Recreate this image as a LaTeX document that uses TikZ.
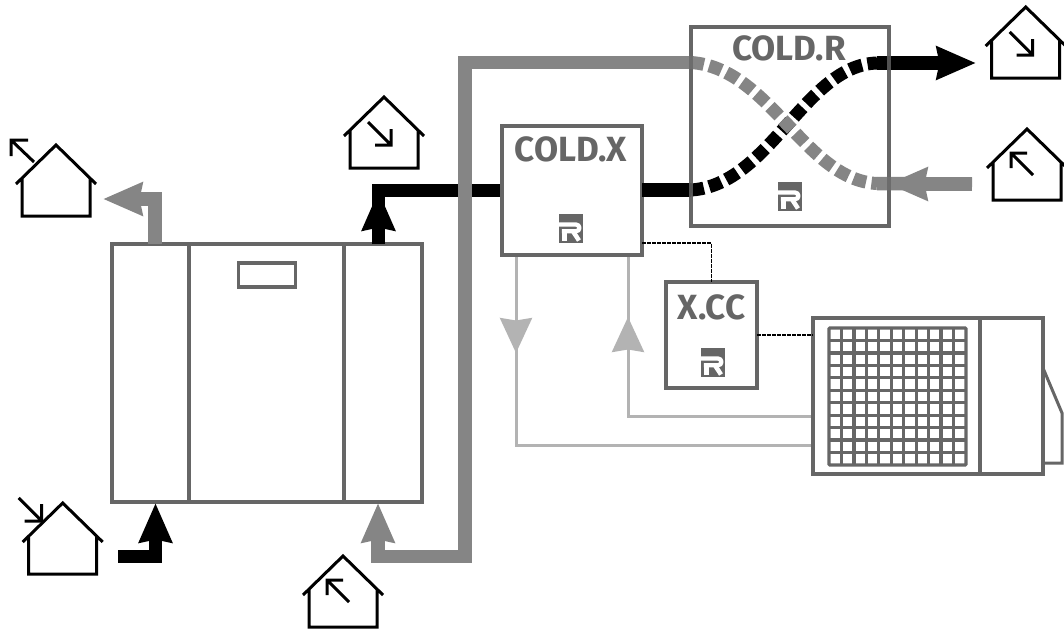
\documentclass[tikz,border=0pt]{standalone}
\usepackage{fontspec}
\setmainfont{Fira Sans}
\usetikzlibrary{arrows.meta,calc}
\definecolor{boxgray}{HTML}{666666}
\definecolor{pipegray}{HTML}{858585}
\definecolor{refgray}{HTML}{B3B3B3}
\tikzset{
  x=1pt,y=-1pt,
  frame/.style={draw=boxgray,line width=3.400pt,fill=white,line join=miter},
  boxnode/.style={frame,rectangle,inner sep=0pt,outer sep=0pt,anchor=north west},
  title/.style={text=boxgray,font=\bfseries\fontsize{35}{35}\selectfont,inner sep=0pt},
  pipe/.style={line width=13.5pt,line join=miter},
  dashpipe/.style={line width=13pt,dash pattern=on 13pt off 5.500pt},
  bighead/.style={-{Stealth[length=39pt,width=32pt,inset=2.500pt]}},
  smallhead/.style={-{Stealth[length=35pt,width=32pt,inset=2.500pt]}},
  refline/.style={draw=refgray,line width=3pt},
  ctrl/.style={draw=black,line width=1.400pt,dash pattern=on 4pt off 1pt},
  house/.pic={
    \draw[black,line width=3pt,line join=miter]
      (-40,39)--(0,0)--(40,39)
      (-34,33)--(-34,71)--(34,71)--(34,33);
  },
  arrowin/.pic={
    \draw[black,line width=3pt] (-16,25)--(7,48) (-9,48)--(7,48)--(7,32);
  },
  arrowout/.pic={
    \draw[black,line width=3pt] (6,46)--(-16,24) (0,24)--(-16,24)--(-16,39);
  },
  logo/.pic={
    \fill[boxgray] (-12,-14.5) rectangle (12,14.5);
    \draw[white,line width=4.300pt,line join=round]
      (-12,-4)--(5,-4) .. controls (9.500,-4) and (9.500,2.800) .. (5,2.800)--(-9.200,2.800);
    \draw[white,line width=4.500pt] (2,2.800)--(8,12);
    \draw[white,line width=4.800pt] (-6.800,0.800)--(-6.800,12);
  },
}
\begin{document}
\begin{tikzpicture}
\useasboundingbox (0,0) rectangle (1064,629);
\fill[white] (0,0) rectangle (1064,629);
% anchors
\coordinate (bendA) at (465,62.5);
\coordinate (bendB) at (465,556.5);
\coordinate (bendC) at (378,556.5);
\coordinate (inTip) at (378,503);
\coordinate (supStart) at (118,556.5);
\coordinate (supBend) at (155.5,556.5);
\coordinate (supTip) at (155.5,503);
\coordinate (extBase) at (155,244);
\coordinate (extBend) at (155,199);
\coordinate (extTip) at (103,199);
\coordinate (outBase) at (378.5,244);
\coordinate (outBend) at (378.5,190.5);
\coordinate (outHeadTip) at (378.5,191);
\coordinate (xLeft) at (502,190.5);
\coordinate (xRight) at (642,190);
\coordinate (rBL) at (691,190);
\coordinate (rTR) at (877,63);
\coordinate (rTL) at (691,62.5);
\coordinate (rBR) at (877,183.500);
\coordinate (supOutTip) at (976,63);
\coordinate (retStart) at (972,184);
\coordinate (retTip) at (888,184);
\coordinate (liqA) at (516,254);
\coordinate (liqAtip) at (516,353);
\coordinate (liqAend) at (813,445);
\coordinate (liqB) at (628,254);
\coordinate (liqBtip) at (628,317);
\coordinate (liqBend) at (813,416);
\coordinate (liqBcorner) at (628,416);
% light refrigerant lines
\draw[refline] (liqA) |- (liqAend);
\draw[refline] (liqBend) -- (liqBcorner) -- (liqB);
\draw[refline,smallhead,refgray] (liqA) -- (liqAtip);
\draw[refline,smallhead,refgray] (liqBcorner) -- (liqBtip);
% main unit
\node[boxnode,minimum width=310pt,minimum height=258pt] (unit) at (112,244) {};
\draw[frame] (189,244)--(189,502) (344,244)--(344,502);
\node[boxnode,minimum width=57pt,minimum height=24pt] (panel) at (238.500,263) {};
% pipes to unit
\draw[pipe,black] (outBase)--(outBend)--(xLeft);
\draw[bighead,black,line width=13.5pt] (outBase)--(outHeadTip);
\draw[pipe,bighead,pipegray] (extBase)--(extBend)--(extTip);
\draw[pipe,bighead,black] (supStart)--(supBend)--(supTip);
% heat-exchanger boxes
\node[boxnode,minimum width=198pt,minimum height=199pt] (coldr) at (691,27) {};
\node[boxnode,minimum width=140pt,minimum height=129pt] (coldx) at (502,126) {};
\node[boxnode,minimum width=91pt,minimum height=106pt] (xcc) at (666,282) {};
\node[title] (coldrt) at (789,48) {COLD.R};
\node[title] (coldxt) at (571,149) {COLD.X};
\node[title] (xcct) at (711.500,307) {X.CC};
\pic at (790,196.500) {logo};
\pic at (571,228.500) {logo};
\pic at (713,362.500) {logo};
% black pipe through
\draw[pipe,black] (xRight)--(rBL);
\draw[pipe,bighead,black] (rTR)--(supOutTip);
\draw[dashpipe,black] (rBL) .. controls (770,185) and (805,65) .. (rTR);
\draw[dashpipe,pipegray] (rTL) .. controls (770,68) and (805,180) .. (rBR);
\draw[pipe,pipegray] (retStart)--(rBR);
\draw[pipe,bighead,pipegray] (retStart)--(retTip);
% gray return main
\draw[pipe,bighead,pipegray] (rTL)--(bendA)--(bendB)--(bendC)--(inTip);
% box edges redrawn over pipes
\draw[draw=boxgray,line width=3.400pt,opacity=.8] (coldr.north west) rectangle (coldr.south east);
% outdoor unit
\draw[draw=boxgray,line width=3pt,fill=white] (1043,368)--(1062,413)--(1062,463)--(1043,463);
\node[boxnode,minimum width=230pt,minimum height=156pt] (outdoor) at (813,318) {};
\draw[frame] (980,318)--(980,474);
\draw[draw=boxgray,line width=3.3pt,rounded corners=1pt] (829,328) rectangle (966,465);
\foreach \i in {1,...,10}{
  \draw[draw=boxgray,line width=3.3pt] ({829+\i*12.4545},328)--({829+\i*12.4545},465);
  \draw[draw=boxgray,line width=3.3pt] (829,{328+\i*12.4545})--(966,{328+\i*12.4545});
}
% control lines
\coordinate (ctrlA) at (642,243);
\coordinate (ctrlB) at (757,335);
\coordinate (ctrlC) at (813,335);
\draw[ctrl] (ctrlA)-|(xcc.north);
\draw[ctrl] (ctrlB)--(ctrlC);
% houses
\pic at (56,145) {house};
\draw[black,line width=3pt] (34,162)--(11,140) (11,156)--(11,140)--(28,140);
\pic at (62.700,503) {house};
\draw[black,line width=3pt] (18.700,498)--(41.700,521) (24.700,521)--(41.700,521)--(41.700,504);
\pic at (343,556) {house};
\pic at (343,556) {arrowout};
\pic at (384,97) {house};
\pic at (384,97) {arrowin};
\pic at (1025.700,7) {house};
\pic at (1025.700,7) {arrowin};
\pic at (1027,129) {house};
\pic at (1027,129) {arrowout};
\end{tikzpicture}
\end{document}
